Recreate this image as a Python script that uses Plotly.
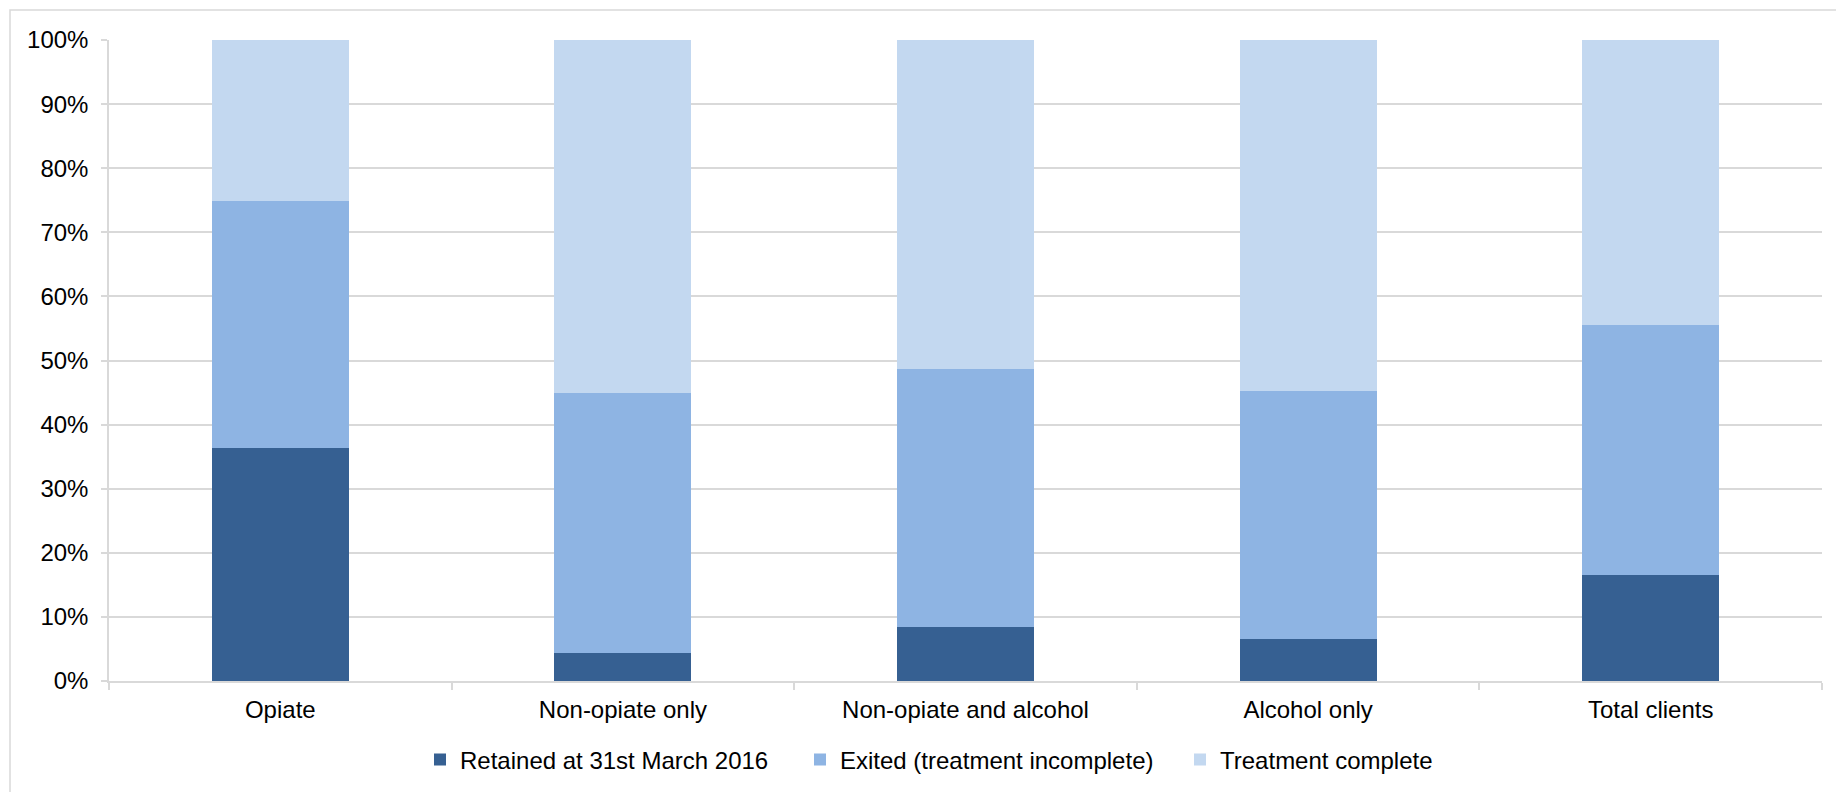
import plotly.graph_objects as go

# Client groups and outcome shares (% of clients)
categories = ["Opiate", "Non-opiate only", "Non-opiate and alcohol", "Alcohol only", "Total clients"]
retained = [36.4, 4.3, 8.5, 6.5, 16.5]
exited = [38.5, 40.7, 40.2, 38.7, 39.1]
complete = [25.1, 55.0, 51.3, 54.8, 44.4]
y_ticks = [0, 10, 20, 30, 40, 50, 60, 70, 80, 90, 100]
y_tick_labels = ["0%", "10%", "20%", "30%", "40%", "50%", "60%", "70%", "80%", "90%", "100%"]

series = [
    ("Retained at 31st March 2016", retained, "#366092"),
    ("Exited (treatment incomplete)", exited, "#8EB4E3"),
    ("Treatment complete", complete, "#C3D8F0"),
]

W, H = 1836, 792
ML, MR, MT, MB = 109, 14, 40, 111
GRID = "#d9d9d9"
FONT = "Liberation Sans, Arial, sans-serif"
FS = 24

fig = go.Figure()
for name, vals, color in series:
    fig.add_trace(go.Bar(
        x=categories, y=vals, name=name,
        marker=dict(color=color, line=dict(width=0)),
    ))

pw = W - ML - MR
ph = H - MT - MB

def px_x(p):
    return (p - ML) / pw

def px_y(p):
    return (H - MB - p) / ph

fig.update_layout(
    width=W, height=H,
    margin=dict(l=ML, r=MR, t=MT, b=MB, autoexpand=False),
    barmode="stack", bargap=0.6,
    plot_bgcolor="white", paper_bgcolor="white",
    font=dict(family=FONT, size=FS, color="#000000"),
    showlegend=True,
    legend=dict(
        orientation="h", x=px_x(420), xanchor="left",
        y=px_y(760), yanchor="middle",
        entrywidth=335, entrywidthmode="pixels",
        font=dict(family=FONT, size=FS, color="#000000"),
        traceorder="normal", bgcolor="rgba(0,0,0,0)",
    ),
    xaxis=dict(
        type="category", showgrid=False, automargin=False,
        showline=True, linecolor=GRID, linewidth=1.5,
        ticks="outside", tickson="boundaries", ticklen=7,
        tickcolor=GRID, tickwidth=1.5, ticklabelstandoff=6,
        tickfont=dict(family=FONT, size=FS, color="#000000"),
    ),
    yaxis=dict(
        range=[0, 100], tickmode="array", automargin=False,
        tickvals=y_ticks, ticktext=y_tick_labels,
        showgrid=True, gridcolor=GRID, gridwidth=1.5,
        showline=True, linecolor=GRID, linewidth=1.5,
        ticks="outside", ticklen=6, tickcolor=GRID, tickwidth=1.5,
        ticklabelstandoff=8, zeroline=False,
        tickfont=dict(family=FONT, size=FS, color="#000000"),
    ),
    shapes=[dict(
        type="rect", xref="paper", yref="paper",
        x0=px_x(10), x1=px_x(W + 20), y0=px_y(H + 20), y1=px_y(10),
        line=dict(color=GRID, width=1.5), fillcolor="rgba(0,0,0,0)",
        layer="below",
    )],
)

fig.write_html("out.html")
